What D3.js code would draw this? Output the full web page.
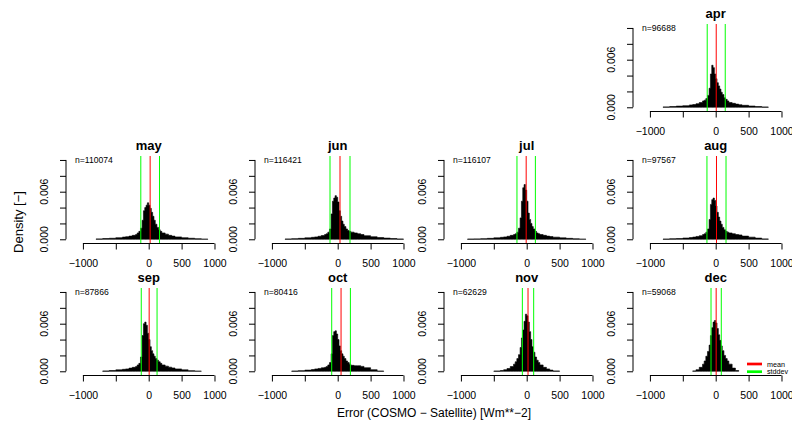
<!DOCTYPE html>
<html>
<head>
<meta charset="utf-8">
<script src="https://cdn.jsdelivr.net/npm/d3@7"></script>
<style>
  body { margin: 0; background: #fff; }
  text { font-family: "Liberation Sans", Arial, sans-serif; fill: #000; }
</style>
</head>
<body>
<div class="canvas"></div>
<script>
// Data
const months = ['apr', 'may', 'jun', 'jul', 'aug', 'sep', 'oct', 'nov', 'dec'];
const counts = [96688, 110074, 116421, 116107, 97567, 87866, 80416, 62629, 59068];
const means = [8, 22, 35, -8, 12, 7, 51, 20, 7];
const stddevs = [137, 142, 152, 140, 145, 120, 142, 86, 78];

// histogram breaks (shared by every month)
const breaks = [-1000, -900, -800, -700, -600, -500, -400, -350, -300, -250, -200, -175, -150, -125, -100,
    -80, -60, -40, -20, 0, 20, 40, 60, 80, 100, 125, 150, 175, 200, 250, 300, 350, 400, 500, 600, 700, 800, 900, 1000];

const densApr = [0, 0, 0.00005, 0.0001, 0.00015, 0.0002, 0.0003, 0.00035, 0.00045, 0.0006, 0.0008, 0.0009, 0.0011, 0.0015,
    0.0024, 0.0042, 0.0053, 0.0050, 0.0042, 0.0036, 0.0031, 0.0027, 0.0023, 0.0019, 0.0016, 0.0012, 0.0010, 0.0008,
    0.0006, 0.0005, 0.0004, 0.00032, 0.00025, 0.00016, 0.0001, 0.00004, 0, 0];
const densMay = [0, 0, 0.00005, 0.0001, 0.00013, 0.0002, 0.00028, 0.00033, 0.0004, 0.0005, 0.0006, 0.0008, 0.001, 0.0014,
    0.0024, 0.0036, 0.0040, 0.0043, 0.0046, 0.0043, 0.0039, 0.0034, 0.0029, 0.0024, 0.0019, 0.0015, 0.0012, 0.001,
    0.0008, 0.00065, 0.0005, 0.0004, 0.0003, 0.0002, 0.00013, 0.00007, 0.00002, 0];
const densJun = [0, 0, 0.00004, 0.00008, 0.00012, 0.00018, 0.00025, 0.0003, 0.00038, 0.00048, 0.0006, 0.0007, 0.0009, 0.0013,
    0.0032, 0.0048, 0.0052, 0.0055, 0.0053, 0.0047, 0.0036, 0.0029, 0.0023, 0.0019, 0.0016, 0.0013, 0.0011, 0.001,
    0.0009, 0.0008, 0.0007, 0.0006, 0.00045, 0.00032, 0.00022, 0.00015, 0.0001, 0.00004];
const densJul = [0, 0.00003, 0.00005, 0.00008, 0.00012, 0.00018, 0.00025, 0.0003, 0.00038, 0.0005, 0.0006, 0.0007, 0.0009, 0.0014,
    0.0027, 0.0048, 0.0065, 0.0069, 0.0062, 0.0048, 0.0033, 0.0025, 0.002, 0.0016, 0.0013, 0.001, 0.0008, 0.0007,
    0.0006, 0.0005, 0.0004, 0.00034, 0.00027, 0.00018, 0.00012, 0.00006, 0.00002, 0];
const densAug = [0, 0, 0.00003, 0.00007, 0.0001, 0.00016, 0.00022, 0.00028, 0.00036, 0.00045, 0.0006, 0.0007, 0.0009, 0.0013,
    0.0025, 0.0044, 0.0050, 0.0052, 0.0049, 0.0042, 0.0034, 0.0028, 0.0023, 0.0019, 0.0015, 0.0012, 0.001, 0.0009,
    0.0008, 0.0007, 0.0006, 0.00055, 0.0004, 0.00027, 0.00015, 0.00005, 0, 0];
const densSep = [0, 0, 0, 0.00004, 0.0001, 0.00018, 0.00025, 0.0003, 0.0004, 0.0005, 0.0006, 0.0008, 0.001, 0.0018,
    0.0045, 0.0060, 0.0062, 0.0058, 0.0048, 0.0040, 0.0031, 0.0026, 0.0022, 0.0019, 0.0016, 0.0014, 0.0012, 0.001,
    0.0008, 0.00065, 0.00052, 0.00042, 0.0003, 0.00018, 0.00008, 0.00002, 0, 0];
const densOct = [0, 0, 0, 0.00003, 0.00008, 0.00015, 0.00022, 0.0003, 0.00036, 0.00044, 0.0005, 0.0006, 0.0008, 0.0011,
    0.0022, 0.0045, 0.0050, 0.0051, 0.0047, 0.0040, 0.0032, 0.0026, 0.0022, 0.0019, 0.0016, 0.0013, 0.0011, 0.0009,
    0.00075, 0.0007, 0.0007, 0.00062, 0.00045, 0.0002, 0.00003, 0, 0, 0];
const densNov = [0, 0, 0, 0, 0, 0.00003, 0.0001, 0.0002, 0.00035, 0.0006, 0.0009, 0.0012, 0.0016, 0.0021,
    0.0030, 0.0042, 0.0052, 0.0063, 0.0072, 0.0070, 0.0062, 0.0050, 0.0040, 0.0031, 0.0024, 0.0018, 0.0014, 0.0011,
    0.0008, 0.0005, 0.0003, 0.00015, 0.00004, 0, 0, 0, 0, 0];
const densDec = [0, 0, 0, 0, 0, 0, 0, 0.00005, 0.0002, 0.0005, 0.0009, 0.0013, 0.0019, 0.0025,
    0.0033, 0.0045, 0.0055, 0.0062, 0.0064, 0.0061, 0.0054, 0.0046, 0.0039, 0.0032, 0.0026, 0.002, 0.0016, 0.0013,
    0.0009, 0.0004, 0.0001, 0, 0, 0, 0, 0, 0, 0];
const densities = [densApr, densMay, densJun, densJul, densAug, densSep, densOct, densNov, densDec];

// axis ticks
const xTicks = [-1000, -500, 0, 500, 1000];
const xLabelled = [-1000, 0, 500, 1000];
const yTicks = [0, 0.002, 0.004, 0.006, 0.008, 0.010];
const yLabelled = [0, 0.006];

// Create svg
const svg = d3.select('.canvas')
    .append('svg')
        .attr('width', 792)
        .attr('height', 442)

// Panel geometry (3x4 grid, apr sits in the 4th cell)
const plotW = 165.4, plotH = 87.5;
const colStep = 189, rowStep = 132;

const x = d3.scaleLinear().domain([-1257, 1257]).range([0, plotW]);
const y = d3.scaleLinear().domain([-0.00053, 0.0105]).range([plotH, 0]);
const fmtX = d3.format('d');

// stepped histogram outline
const histArea = d3.area()
    .curve(d3.curveStepAfter)
    .x(p => x(p[0]))
    .y0(y(0))
    .y1(p => y(p[1]));

months.forEach((m, i) => {
    const cell = i + 3;
    const row = Math.floor(cell / 4), col = cell % 4;
    const g = svg.append('g')
        .attr('transform', `translate(${66 + col * colStep}, ${24 + row * rowStep})`);

    // bars (trim empty bins at both ends)
    const dens = densities[i];
    const first = dens.findIndex(d => d > 0);
    const last = dens.length - 1 - [...dens].reverse().findIndex(d => d > 0);
    const pts = [];
    for (let k = first; k <= last; k++) pts.push([breaks[k], dens[k]]);
    pts.push([breaks[last + 1], dens[last]]);

    g.append('path')
        .datum(pts)
        .attr('d', histArea)
        .attr('fill', '#000')
        .attr('stroke', '#000')
        .attr('stroke-width', 0.6)

    // mean and stddev lines
    const vlines = [
        {v: means[i], c: '#ff0000'},
        {v: means[i] - stddevs[i], c: '#00ff00'},
        {v: means[i] + stddevs[i], c: '#00ff00'}
    ];
    g.selectAll('line.v')
        .data(vlines)
        .enter()
        .append('line')
            .attr('x1', d => x(d.v))
            .attr('x2', d => x(d.v))
            .attr('y1', 0)
            .attr('y2', plotH)
            .attr('stroke', d => d.c)
            .attr('stroke-width', 1)

    // x axis
    const xAxis = g.append('g')
        .attr('transform', `translate(0, ${plotH})`)
        .call(d3.axisBottom(x).tickValues(xTicks).tickSize(6).tickPadding(10)
            .tickFormat(d => xLabelled.includes(d) ? fmtX(d) : ''));
    xAxis.select('.domain').remove();
    xAxis.append('line')
        .attr('x1', x(xTicks[0])).attr('x2', x(xTicks[xTicks.length - 1]))
        .attr('stroke', '#000');
    xAxis.selectAll('text').attr('font-size', 10.5).attr('fill', '#000');
    xAxis.selectAll('.tick line').attr('stroke', '#000');

    // y axis
    const yAxis = g.append('g')
        .call(d3.axisLeft(y).tickValues(yTicks).tickSize(6).tickFormat(''));
    yAxis.select('.domain').remove();
    yAxis.append('line')
        .attr('y1', y(yTicks[0])).attr('y2', y(yTicks[yTicks.length - 1]))
        .attr('stroke', '#000');
    yAxis.selectAll('.tick line').attr('stroke', '#000');
    g.selectAll('text.ylab')
        .data(yLabelled)
        .enter()
        .append('text')
            .attr('class', 'ylab')
            .attr('transform', d => `translate(-22, ${y(d)}) rotate(-90)`)
            .attr('text-anchor', 'middle')
            .attr('dy', '0.35em')
            .attr('font-size', 10.5)
            .text(d => d3.format('.3f')(d))

    // title and count
    g.append('text')
        .attr('x', x(0))
        .attr('y', -11)
        .attr('dy', '0.35em')
        .attr('text-anchor', 'middle')
        .attr('font-size', 13)
        .attr('font-weight', 'bold')
        .text(m)
    g.append('text')
        .attr('x', x(-1120))
        .attr('y', y(0.010))
        .attr('dy', '0.35em')
        .attr('font-size', 8.6)
        .text('n=' + counts[i])

    // legend in the last panel
    if (m === 'dec') {
        const legend = [{t: 'mean', c: '#ff0000'}, {t: 'stddev', c: '#00ff00'}];
        const lg = g.append('g').attr('transform', 'translate(114, 76)');
        legend.forEach((l, k) => {
            lg.append('line')
                .attr('x1', 0).attr('x2', 15)
                .attr('y1', k * 7.7).attr('y2', k * 7.7)
                .attr('stroke', l.c).attr('stroke-width', 2.7)
            lg.append('text')
                .attr('x', 20).attr('y', k * 7.7)
                .attr('dy', '0.35em')
                .attr('font-size', 7.2)
                .text(l.t)
        });
    }
});

// outer labels
svg.append('text')
    .attr('transform', 'translate(18, 222) rotate(-90)')
    .attr('text-anchor', 'middle')
    .attr('dy', '0.35em')
    .attr('font-size', 13)
    .text('Density [\u2212]')

svg.append('text')
    .attr('x', 434)
    .attr('y', 413)
    .attr('dy', '0.35em')
    .attr('text-anchor', 'middle')
    .attr('font-size', 12)
    .text('Error (COSMO \u2212 Satellite) [Wm**\u22122]')
</script>
</body>
</html>
